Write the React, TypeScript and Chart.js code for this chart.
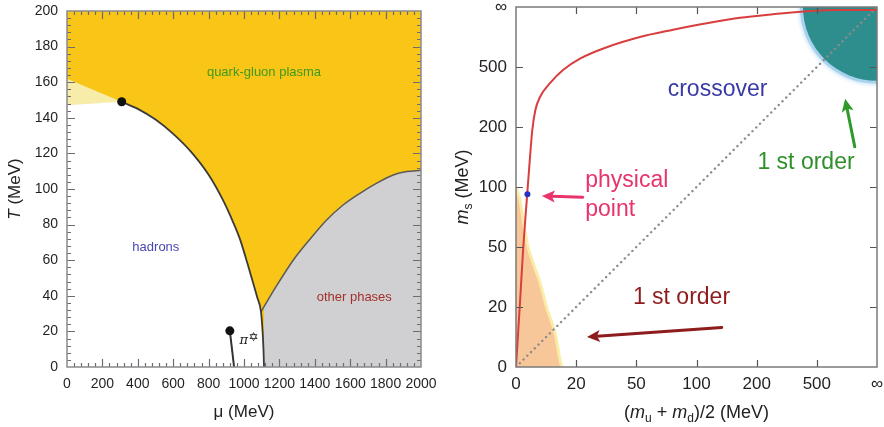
import React, { useEffect, useRef } from 'react';
import { Chart, registerables } from 'chart.js';
Chart.register(...registerables);

const FONT = "'Liberation Sans', Arial, Helvetica, sans-serif";

// ---------------- Left panel: QCD phase diagram (mu, T) ----------------
const MU_MIN = 0;
const MU_MAX = 2000;
const T_MIN = 0;
const T_MAX = 200;

// hadron / QGP boundary (from critical point down to T = 0)
const hadronMu = [309, 400, 500, 600, 700, 800, 880, 940, 980, 1020, 1052, 1075, 1096, 1105, 1110, 1113];
const hadronT = [149, 145, 139, 131, 121, 108, 94, 81, 71, 58, 47, 39, 31, 20, 10, 0];

// crossover band (light yellow wedge) ending at the critical point
const crossUpperMu = [0, 309];
const crossUpperT = [162, 149];
const crossLowerMu = [0];
const crossLowerT = [147];

// boundary of "other phases"
const otherMu = [1096, 1180, 1278, 1370, 1467, 1560, 1655, 1750, 1843, 1920, 2000];
const otherT = [31, 45, 60, 71.5, 82.6, 91, 97.6, 103.3, 107.9, 109.8, 110.5];

// points
const criticalMu = [309];
const criticalT = [149];
const pionMu = [920, 944];
const pionT = [20.3, 0];

const leftLabels = [
  { text: 'quark-gluon plasma', mu: 1113, T: 165.3, color: '#3d9a1f' },
  { text: 'hadrons', mu: 502, T: 67, color: '#4848b4' },
  { text: 'other phases', mu: 1623, T: 38.9, color: '#a3302b' },
];
const pionLabel = { mu: 975, T: 15.5 };

// ---------------- Right panel: Columbia plot (index axis) ----------------
const massTickLabels = ['0', '20', '50', '100', '200', '500', '\u221E'];

const redCurveX = [0, 0.066, 0.121, 0.175, 0.229, 0.271, 0.321, 0.399, 0.565, 0.781, 1.064, 1.51, 2.06, 2.61, 3.17, 3.72, 4.27, 4.83, 5.38, 6];
const redCurveY = [0, 1.07, 2.0, 2.73, 3.45, 3.95, 4.28, 4.5, 4.73, 4.95, 5.14, 5.33, 5.5, 5.62, 5.73, 5.82, 5.88, 5.93, 5.95, 5.95];

const chiralRegionX = [0, 0.066, 0.2, 0.4, 0.51, 0.65, 0.73, 0.76];
const chiralRegionY = [3.0, 2.78, 2.0, 1.4, 0.99, 0.56, 0.12, 0];

const diagonalX = [0, 6];
const diagonalY = [0, 6];

const physicalX = [0.19];
const physicalY = [2.88];

const quenchedCorner = { x: 6, y: 6, r: 1.23 };

const rightLabels = [
  { text: 'crossover', x: 3.35, y: 4.62, color: '#3a3aa6', align: 'center' },
  { text: '1 st order', x: 4.82, y: 3.4, color: '#2f8f2a', align: 'center' },
  { text: 'physical', x: 1.15, y: 3.1, color: '#e8336b', align: 'left' },
  { text: 'point', x: 1.15, y: 2.62, color: '#e8336b', align: 'left' },
  { text: '1 st order', x: 2.75, y: 1.15, color: '#8e1c1c', align: 'center' },
];
const rightArrows = [
  { x1: 1.11, y1: 2.83, x2: 0.43, y2: 2.85, color: '#e8336b' },
  { x1: 5.63, y1: 3.67, x2: 5.47, y2: 4.47, color: '#2f9a2a' },
  { x1: 3.42, y1: 0.66, x2: 1.18, y2: 0.5, color: '#8e1c1c' },
];

// ---------------- helpers ----------------
const zip = (xs: number[], ys: number[]) => xs.map((x, i) => ({ x, y: ys[i] }));

type Seg = { text: string; italic?: boolean; sub?: boolean };

function drawRich(ctx: CanvasRenderingContext2D, segs: Seg[], cx: number, cy: number, size: number, color: string, rotate: boolean) {
  ctx.save();
  ctx.translate(cx, cy);
  if (rotate) ctx.rotate(-Math.PI / 2);
  const fontFor = (s: Seg) => `${s.italic ? 'italic ' : ''}${s.sub ? Math.round(size * 0.68) : size}px ${FONT}`;
  let total = 0;
  const widths = segs.map((s) => {
    ctx.font = fontFor(s);
    const w = ctx.measureText(s.text).width;
    total += w;
    return w;
  });
  let x = -total / 2;
  ctx.fillStyle = color;
  ctx.textBaseline = 'middle';
  ctx.textAlign = 'left';
  segs.forEach((s, i) => {
    ctx.font = fontFor(s);
    ctx.fillText(s.text, x, s.sub ? size * 0.32 : 0);
    x += widths[i];
  });
  ctx.restore();
}

function drawArrow(ctx: CanvasRenderingContext2D, x1: number, y1: number, x2: number, y2: number, color: string) {
  const ang = Math.atan2(y2 - y1, x2 - x1);
  const headLen = 13;
  const headW = 6;
  const bx = x2 - headLen * Math.cos(ang);
  const by = y2 - headLen * Math.sin(ang);
  ctx.save();
  ctx.strokeStyle = color;
  ctx.fillStyle = color;
  ctx.lineWidth = 3;
  ctx.lineCap = 'round';
  ctx.beginPath();
  ctx.moveTo(x1, y1);
  ctx.lineTo(bx + 3 * Math.cos(ang), by + 3 * Math.sin(ang));
  ctx.stroke();
  ctx.beginPath();
  ctx.moveTo(x2, y2);
  ctx.lineTo(bx + headW * Math.sin(ang), by - headW * Math.cos(ang));
  ctx.lineTo(bx + 3 * Math.cos(ang), by + 3 * Math.sin(ang));
  ctx.lineTo(bx - headW * Math.sin(ang), by + headW * Math.cos(ang));
  ctx.closePath();
  ctx.fill();
  ctx.restore();
}

type TickDef = { v: number; major: boolean };

function framePlugin(id: string, xTicks: TickDef[], yTicks: TickDef[], tickColor: string, frameColor: string, majorLen: number, minorLen: number) {
  return {
    id,
    afterDatasetsDraw(chart: any) {
      const { ctx, chartArea: a, scales } = chart;
      ctx.save();
      ctx.strokeStyle = tickColor;
      ctx.lineWidth = 1.2;
      ctx.beginPath();
      xTicks.forEach((t) => {
        const px = Math.round(scales.x.getPixelForValue(t.v)) + 0.5;
        const len = t.major ? majorLen : minorLen;
        ctx.moveTo(px, a.bottom);
        ctx.lineTo(px, a.bottom - len);
        ctx.moveTo(px, a.top);
        ctx.lineTo(px, a.top + len);
      });
      yTicks.forEach((t) => {
        const py = Math.round(scales.y.getPixelForValue(t.v)) + 0.5;
        const len = t.major ? majorLen : minorLen;
        ctx.moveTo(a.left, py);
        ctx.lineTo(a.left + len, py);
        ctx.moveTo(a.right, py);
        ctx.lineTo(a.right - len, py);
      });
      ctx.stroke();
      ctx.strokeStyle = frameColor;
      ctx.lineWidth = 1.5;
      ctx.strokeRect(a.left, a.top, a.right - a.left, a.bottom - a.top);
      ctx.restore();
    },
  };
}

// ---------------- left chart ----------------
function leftConfig(): any {
  const xTicks: TickDef[] = [];
  for (let v = MU_MIN + 40; v < MU_MAX; v += 40) xTicks.push({ v, major: v % 200 === 0 });
  const yTicks: TickDef[] = [];
  for (let v = T_MIN + 4; v < T_MAX; v += 4) yTicks.push({ v, major: v % 20 === 0 });

  const lowerIdx = hadronT.map((t, i) => (t <= otherT[0] ? i : -1)).filter((i) => i >= 0);
  const grayMu = [...lowerIdx.map((i) => hadronMu[i]).reverse(), ...otherMu.slice(1)];
  const grayT = [...lowerIdx.map((i) => hadronT[i]).reverse(), ...otherT.slice(1)];

  const textPlugin = {
    id: 'leftText',
    afterDatasetsDraw(chart: any) {
      const { ctx, chartArea: a, scales } = chart;
      ctx.save();
      ctx.textAlign = 'center';
      ctx.textBaseline = 'middle';
      ctx.font = `13px ${FONT}`;
      leftLabels.forEach((l) => {
        ctx.fillStyle = l.color;
        ctx.fillText(l.text, scales.x.getPixelForValue(l.mu), scales.y.getPixelForValue(l.T));
      });
      const px = scales.x.getPixelForValue(pionLabel.mu);
      const py = scales.y.getPixelForValue(pionLabel.T);
      ctx.textAlign = 'left';
      ctx.fillStyle = '#222';
      ctx.font = `italic 13px 'DejaVu Serif', serif`;
      ctx.fillText('\u03C0', px, py + 1);
      const w = ctx.measureText('\u03C0').width;
      ctx.font = `12px 'DejaVu Sans', sans-serif`;
      ctx.fillText('\u2721', px + w + 0.5, py - 2);
      ctx.restore();
      drawRich(ctx, [{ text: '\u03BC (MeV)' }], (a.left + a.right) / 2, a.bottom + 45, 17, '#222', false);
      drawRich(ctx, [{ text: 'T', italic: true }, { text: ' (MeV)' }], a.left - 52, (a.top + a.bottom) / 2, 17, '#222', true);
    },
  };

  return {
    type: 'line',
    data: {
      datasets: [
        { data: zip([MU_MIN, MU_MAX], [T_MAX, T_MAX]), fill: 'origin', backgroundColor: '#f9c517', borderWidth: 0, pointRadius: 0, order: 10 },
        { data: zip(crossUpperMu, crossUpperT), fill: 'origin', backgroundColor: '#f7eca8', borderWidth: 0, pointRadius: 0, order: 9 },
        { data: zip([...crossLowerMu, ...hadronMu], [...crossLowerT, ...hadronT]), fill: 'origin', backgroundColor: '#ffffff', borderWidth: 0, pointRadius: 0, order: 8 },
        { data: zip(grayMu, grayT), fill: 'origin', backgroundColor: '#d0d0d2', borderWidth: 0, pointRadius: 0, order: 7 },
        { data: zip(hadronMu, hadronT), fill: false, borderColor: '#3a3a3a', borderWidth: 1.8, pointRadius: 0, cubicInterpolationMode: 'monotone', order: 3 },
        { data: zip(otherMu, otherT), fill: false, borderColor: '#5a5a58', borderWidth: 1.5, pointRadius: 0, cubicInterpolationMode: 'monotone', order: 3 },
        { data: zip(pionMu, pionT), fill: false, borderColor: '#333', borderWidth: 2, pointRadius: 0, order: 3 },
        { data: zip([...criticalMu, pionMu[0]], [...criticalT, pionT[0]]), showLine: false, pointRadius: 4.5, pointBackgroundColor: '#111', pointBorderWidth: 0, order: 1 },
      ],
    },
    options: {
      responsive: false,
      animation: false,
      devicePixelRatio: 1,
      layout: { padding: { left: 0, right: 21, top: 11, bottom: 0 } },
      plugins: { legend: { display: false }, tooltip: { enabled: false } },
      elements: { line: { tension: 0 } },
      scales: {
        x: {
          type: 'linear', min: MU_MIN, max: MU_MAX,
          grid: { display: false, drawTicks: false }, border: { display: false },
          ticks: { stepSize: 200, autoSkip: false, maxRotation: 0, minRotation: 0, padding: 9, color: '#231f20', font: { family: FONT, size: 14 }, callback: (v: any) => String(v) },
          afterFit: (s: any) => { s.height = 60; s.paddingLeft = 0; s.paddingRight = 0; },
        },
        y: {
          type: 'linear', min: T_MIN, max: T_MAX,
          grid: { display: false, drawTicks: false }, border: { display: false },
          ticks: { stepSize: 20, autoSkip: false, padding: 9, color: '#231f20', font: { family: FONT, size: 14 }, callback: (v: any) => String(v) },
          afterFit: (s: any) => { s.width = 67; s.paddingTop = 0; s.paddingBottom = 0; },
        },
      },
    },
    plugins: [framePlugin('leftFrame', xTicks, yTicks, '#6c6c72', '#8a8a8e', 8, 4), textPlugin],
  };
}

// ---------------- right chart ----------------
function rightConfig(): any {
  const ticks: TickDef[] = [1, 2, 3, 4, 5].map((v) => ({ v, major: true }));

  const cornerPlugin = {
    id: 'corner',
    beforeDatasetsDraw(chart: any) {
      const { ctx, chartArea: a, scales } = chart;
      const cx = scales.x.getPixelForValue(quenchedCorner.x);
      const cy = scales.y.getPixelForValue(quenchedCorner.y);
      const rx = Math.abs(scales.x.getPixelForValue(quenchedCorner.x - quenchedCorner.r) - cx);
      const ry = Math.abs(scales.y.getPixelForValue(quenchedCorner.y - quenchedCorner.r) - cy);
      ctx.save();
      ctx.beginPath();
      ctx.rect(a.left, a.top, a.right - a.left, a.bottom - a.top);
      ctx.clip();
      ctx.beginPath();
      ctx.ellipse(cx, cy, rx + 3, ry + 3, 0, 0, Math.PI * 2);
      ctx.fillStyle = '#a9d2ee';
      ctx.shadowColor = '#a9d2ee';
      ctx.shadowBlur = 5;
      ctx.fill();
      ctx.shadowBlur = 0;
      ctx.beginPath();
      ctx.ellipse(cx, cy, rx, ry, 0, 0, Math.PI * 2);
      ctx.fillStyle = '#2e8d8d';
      ctx.fill();
      ctx.restore();
    },
  };

  const textPlugin = {
    id: 'rightText',
    afterDatasetsDraw(chart: any) {
      const { ctx, chartArea: a, scales } = chart;
      ctx.save();
      ctx.textBaseline = 'middle';
      ctx.font = `23px ${FONT}`;
      rightLabels.forEach((l) => {
        ctx.fillStyle = l.color;
        ctx.textAlign = l.align as CanvasTextAlign;
        ctx.fillText(l.text, scales.x.getPixelForValue(l.x), scales.y.getPixelForValue(l.y));
      });
      ctx.restore();
      rightArrows.forEach((ar) => {
        drawArrow(ctx, scales.x.getPixelForValue(ar.x1), scales.y.getPixelForValue(ar.y1), scales.x.getPixelForValue(ar.x2), scales.y.getPixelForValue(ar.y2), ar.color);
      });
      drawRich(
        ctx,
        [{ text: '(' }, { text: 'm', italic: true }, { text: 'u', sub: true }, { text: ' + ' }, { text: 'm', italic: true }, { text: 'd', sub: true }, { text: ')/2 (MeV)' }],
        (a.left + a.right) / 2, a.bottom + 46, 18, '#222', false,
      );
      drawRich(ctx, [{ text: 'm', italic: true }, { text: 's', sub: true }, { text: ' (MeV)' }], a.left - 53, (a.top + a.bottom) / 2, 18, '#222', true);
    },
  };

  const tickCb = (v: any) => massTickLabels[Math.round(Number(v))] ?? '';

  return {
    type: 'line',
    data: {
      datasets: [
        { data: zip(chiralRegionX, chiralRegionY), fill: 'origin', backgroundColor: '#f8c799', borderColor: 'rgba(250,236,165,0.95)', borderWidth: 3, pointRadius: 0, tension: 0.3, order: 9 },
        { data: zip(diagonalX, diagonalY), fill: false, borderColor: '#8c8c8c', borderWidth: 2.4, borderDash: [0.1, 5.2], borderCapStyle: 'round', pointRadius: 0, order: 4 },
        { data: zip(redCurveX, redCurveY), fill: false, borderColor: '#d93e3e', borderWidth: 2, pointRadius: 0, cubicInterpolationMode: 'monotone', order: 2 },
        { data: zip(physicalX, physicalY), showLine: false, pointRadius: 3, pointBackgroundColor: '#2435c4', pointBorderWidth: 0, order: 0 },
      ],
    },
    options: {
      responsive: false,
      animation: false,
      devicePixelRatio: 1,
      layout: { padding: { left: 0, right: 7, top: 7, bottom: 0 } },
      plugins: { legend: { display: false }, tooltip: { enabled: false } },
      elements: { line: { tension: 0 } },
      scales: {
        x: {
          type: 'linear', min: 0, max: 6,
          grid: { display: false, drawTicks: false }, border: { display: false },
          ticks: { stepSize: 1, autoSkip: false, maxRotation: 0, minRotation: 0, padding: 7, color: '#231f20', font: { family: FONT, size: 17 }, callback: tickCb },
          afterFit: (s: any) => { s.height = 60; s.paddingLeft = 0; s.paddingRight = 0; },
        },
        y: {
          type: 'linear', min: 0, max: 6,
          grid: { display: false, drawTicks: false }, border: { display: false },
          ticks: { stepSize: 1, autoSkip: false, padding: 9, color: '#231f20', font: { family: FONT, size: 17 }, callback: tickCb },
          afterFit: (s: any) => { s.width = 74; s.paddingTop = 0; s.paddingBottom = 0; },
        },
      },
    },
    plugins: [cornerPlugin, framePlugin('rightFrame', ticks, ticks, '#555', '#7a7a7a', 7, 7), textPlugin],
  };
}

export default function App() {
  const leftRef = useRef<HTMLCanvasElement>(null);
  const rightRef = useRef<HTMLCanvasElement>(null);
  useEffect(() => {
    const c1 = new Chart(leftRef.current as HTMLCanvasElement, leftConfig());
    const c2 = new Chart(rightRef.current as HTMLCanvasElement, rightConfig());
    return () => {
      c1.destroy();
      c2.destroy();
    };
  }, []);
  return (
    <div style={{ position: 'absolute', left: 0, top: 0, width: 884, height: 427, background: '#fff', overflow: 'hidden' }}>
      <canvas ref={leftRef} width={442} height={427} style={{ position: 'absolute', left: 0, top: 0 }} />
      <canvas ref={rightRef} width={442} height={427} style={{ position: 'absolute', left: 442, top: 0 }} />
    </div>
  );
}
